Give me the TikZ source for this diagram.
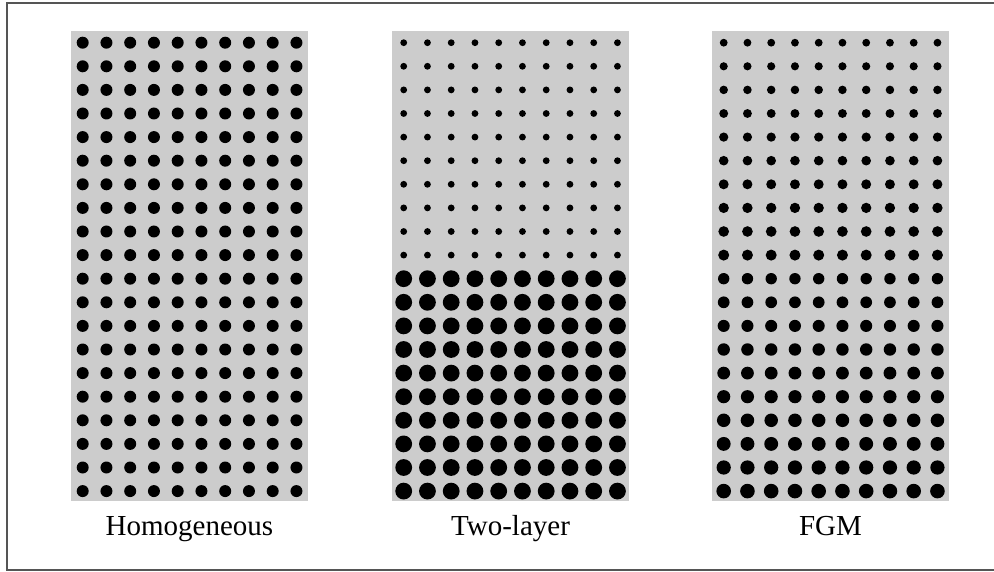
\documentclass[tikz,border=0pt]{standalone}
\usepackage{fontspec}
\setmainfont{Liberation Serif}
\definecolor{panelgray}{HTML}{CCCCCC}
\definecolor{framegray}{HTML}{555555}
\begin{document}
\begin{tikzpicture}[x=1pt,y=-1pt,
  panel/.style={fill=panelgray,draw=none},
  dot/.style={fill=black,draw=none},
  lbl/.style={anchor=base,inner sep=0pt,font=\fontsize{29}{34}\selectfont}]
\useasboundingbox (0,0) rectangle (994,572);
\fill[white] (0,0) rectangle (994,572);
\draw[framegray,line width=1.5pt] (7,3) rectangle (1005,570);
% panels
\foreach \px in {71,392,712}{
  \fill[panel] (\px,31) rectangle ++(237,470);
}
% Homogeneous
\foreach \j in {0,...,19}{
  \foreach \i in {0,...,9}{
    \fill[dot] ({71+11.7+23.75*\i},{42.7+23.6*\j}) circle (6.0);
  }
}
% Two-layer
\foreach \j in {0,...,19}{
  \pgfmathsetmacro{\rr}{\j<10 ? 3.4 : 8.4}
  \foreach \i in {0,...,9}{
    \fill[dot] ({392+11.7+23.75*\i},{42.7+23.6*\j}) circle (\rr);
  }
}
% FGM
\foreach \j in {0,...,19}{
  \pgfmathsetmacro{\rr}{3.9+3.4*\j/19}
  \foreach \i in {0,...,9}{
    \fill[dot] ({712+11.7+23.75*\i},{42.7+23.6*\j}) circle (\rr);
  }
}
\node[lbl] (la) at (189.5,535) {Homogeneous};
\node[lbl] (lb) at (510.5,535) {Two-layer};
\node[lbl] (lc) at (830.5,535) {FGM};
\end{tikzpicture}
\end{document}
